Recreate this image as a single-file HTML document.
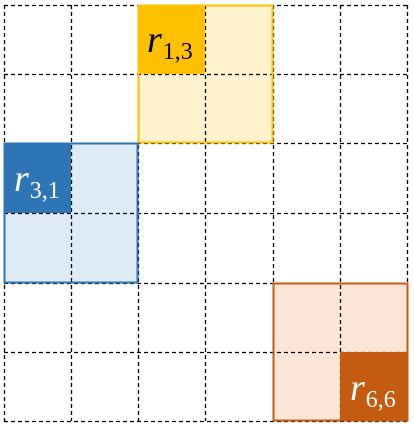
<!DOCTYPE html>
<html><head><meta charset="utf-8"><style>
html,body{margin:0;padding:0;background:#fff;width:414px;height:426px;overflow:hidden}
</style></head><body>
<svg width="414" height="426" viewBox="0 0 414 426">
  <g>
    <rect x="138" y="5" width="135" height="138" fill="#FFF2CC"/>
    <rect x="4" y="143" width="134" height="140" fill="#DEEBF7"/>
    <rect x="273" y="283" width="135" height="138" fill="#FBE5D6"/>
  </g>
  <g stroke="#000" stroke-width="1.3" stroke-dasharray="4,3" fill="none">
    <line x1="4.5" y1="5" x2="4.5" y2="421"/><line x1="71.5" y1="5" x2="71.5" y2="421"/>
    <line x1="138.5" y1="5" x2="138.5" y2="421"/><line x1="205.5" y1="5" x2="205.5" y2="421"/>
    <line x1="273.5" y1="5" x2="273.5" y2="421"/><line x1="340.5" y1="5" x2="340.5" y2="421"/>
    <line x1="407.5" y1="5" x2="407.5" y2="421"/>
    <line x1="4" y1="5.5" x2="408" y2="5.5"/><line x1="4" y1="74.5" x2="408" y2="74.5"/>
    <line x1="4" y1="143.5" x2="408" y2="143.5"/><line x1="4" y1="213.5" x2="408" y2="213.5"/>
    <line x1="4" y1="283.5" x2="408" y2="283.5"/><line x1="4" y1="352.5" x2="408" y2="352.5"/>
    <line x1="4" y1="421.5" x2="408" y2="421.5"/>
  </g>
  <rect x="138" y="5" width="67" height="69" fill="#FFC000"/>
  <rect x="4" y="143" width="67" height="70" fill="#2E75B6"/>
  <rect x="340" y="352" width="68" height="69" fill="#C55A11"/>
  <rect x="138.5" y="5.5" width="134" height="137" fill="none" stroke="#FFC000" stroke-width="2"/>
  <rect x="4.5" y="143.5" width="133" height="139" fill="none" stroke="#2E75B6" stroke-width="2"/>
  <rect x="273.5" y="283.5" width="134" height="137" fill="none" stroke="#C55A11" stroke-width="2"/>
  <text x="147" y="52" font-family="Liberation Serif, serif" fill="#000"><tspan font-style="italic" font-size="38">r</tspan><tspan font-size="24" dy="7" dx="1">1,3</tspan></text>
  <text x="14" y="191" font-family="Liberation Serif, serif" fill="#fff"><tspan font-style="italic" font-size="38">r</tspan><tspan font-size="24" dy="7" dx="1">3,1</tspan></text>
  <text x="350" y="400" font-family="Liberation Serif, serif" fill="#fff"><tspan font-style="italic" font-size="38">r</tspan><tspan font-size="24" dy="7" dx="1">6,6</tspan></text>
</svg>
</body></html>
